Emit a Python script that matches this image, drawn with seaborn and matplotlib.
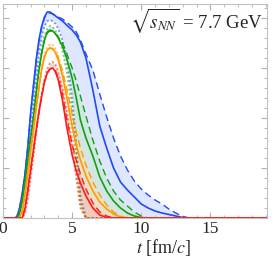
import matplotlib
matplotlib.use("Agg")
import matplotlib.pyplot as plt
import seaborn as sns
import numpy as np
from matplotlib.ticker import MultipleLocator, NullFormatter

# time grid [fm/c]
t = [0, 0.8, 1.0, 1.2, 1.4, 1.6, 1.8, 2.0, 2.2, 2.4,
     2.6, 2.8, 3.0, 3.2, 3.4, 3.6, 3.8, 4.0, 4.3, 4.6,
     5.0, 5.3, 5.6, 6.0, 6.5, 7.0, 7.5, 8.0, 8.5, 9.0,
     9.5, 10.0, 10.5, 11.0, 11.5, 12.0, 12.5, 13.0, 13.5, 14.0, 19.1]

blue_solid = [0, 0, 1, 10, 25, 45, 72, 105, 132, 158,
              178, 192, 201, 206, 206, 204, 202, 200, 197, 193,
              188, 183, 176, 160, 128, 92, 70, 50, 36, 28,
              21, 14, 10, 7, 5, 3.5, 2, 0.5, 0, 0, 0]
blue_dashed = [0, 0, 1, 10, 25, 45, 72, 104, 131, 157,
               177, 191, 200, 205, 205, 204, 203, 201, 199, 196,
               191, 186, 178, 164, 148, 124, 101, 80, 62, 48,
               37, 29, 23, 18, 14, 9, 5, 1.5, 0, 0, 0]
blue_dotted = [0, 0, 0, 4, 15, 32, 55, 85, 115, 142,
               165, 182, 192, 197, 198, 197, 194, 189, 178, 160,
               122, 75, 22, 0, 0, 0, 0, 0, 0, 0,
               0, 0, 0, 0, 0, 0, 0, 0, 0, 0, 0]

green_solid = [0, 0, 0, 5, 18, 38, 60, 80, 100, 125,
               148, 165, 178, 186, 188, 187, 184, 180, 172, 160,
               140, 120, 98, 80, 62, 41, 27, 17, 10, 5,
               2, 0.5, 0, 0, 0, 0, 0, 0, 0, 0, 0]
green_dashed = [0, 0, 0, 5, 18, 38, 60, 80, 100, 125,
                148, 165, 178, 185, 187, 186, 184, 181, 175, 165,
                150, 137, 122, 102, 78, 57, 40, 27, 18, 12,
                6, 2, 0, 0, 0, 0, 0, 0, 0, 0, 0]
green_dotted = [0, 0, 0, 2, 11, 28, 50, 76, 104, 130,
                152, 170, 182, 189, 192, 191, 187, 181, 168, 148,
                108, 62, 16, 0, 0, 0, 0, 0, 0, 0,
                0, 0, 0, 0, 0, 0, 0, 0, 0, 0, 0]

orange_solid = [0, 0, 0, 0, 8, 25, 46, 68, 88, 110,
                130, 149, 161, 168, 170, 169, 165, 158, 142, 122,
                92, 73, 58, 42, 27, 16, 9, 4, 1, 0,
                0, 0, 0, 0, 0, 0, 0, 0, 0, 0, 0]
orange_dashed = [0, 0, 0, 0, 8, 25, 46, 68, 88, 110,
                 130, 149, 161, 168, 170, 169, 166, 160, 147, 130,
                 104, 86, 70, 53, 36, 23, 13, 6, 2, 0,
                 0, 0, 0, 0, 0, 0, 0, 0, 0, 0, 0]
orange_dotted = [0, 0, 0, 0, 4, 16, 36, 60, 85, 110,
                 133, 152, 164, 171, 174, 173, 169, 162, 147, 124,
                 86, 48, 12, 0, 0, 0, 0, 0, 0, 0,
                 0, 0, 0, 0, 0, 0, 0, 0, 0, 0, 0]

red_solid = [0, 0, 0, 0, 0, 10, 28, 48, 68, 88,
             106, 122, 136, 145, 149, 150, 146, 138, 118, 92,
             63, 47, 35, 22, 10, 3, 0.5, 0, 0, 0,
             0, 0, 0, 0, 0, 0, 0, 0, 0, 0, 0]
red_dashed = [0, 0, 0, 0, 0, 10, 28, 48, 68, 88,
              106, 122, 136, 145, 149, 150, 147, 140, 124, 100,
              74, 58, 44, 29, 15, 6, 2, 0, 0, 0,
              0, 0, 0, 0, 0, 0, 0, 0, 0, 0, 0]
red_dotted = [0, 0, 0, 0, 0, 5, 20, 40, 62, 84,
              105, 124, 139, 149, 155, 156, 153, 146, 130, 108,
              72, 40, 10, 0, 0, 0, 0, 0, 0, 0,
              0, 0, 0, 0, 0, 0, 0, 0, 0, 0, 0]

series = [
    ("#1f4cf0", "#b8c8ff", blue_solid, blue_dashed, blue_dotted),
    ("#12a012", "#c4e8c4", green_solid, green_dashed, green_dotted),
    ("#ff9a00", "#ffdca8", orange_solid, orange_dashed, orange_dotted),
    ("#ff1a1a", "#ffb4aa", red_solid, red_dashed, red_dotted),
]

sns.set_style("ticks")
plt.rcParams["font.family"] = ["Liberation Serif", "DejaVu Serif"]
plt.rcParams["mathtext.fontset"] = "stix"

fig = plt.figure(figsize=(2.75, 2.64), dpi=100)
ax = fig.add_axes([3 / 275, 1 - 218 / 264, 264 / 275, 214 / 264])

# uncertainty bands
for col, band, s, d, p in series:
    arr = np.array([s, d, p])
    ax.fill_between(t, arr.min(axis=0), arr.max(axis=0), color=band,
                    alpha=0.45, linewidth=0)

for col, band, s, d, p in series:
    sns.lineplot(x=t, y=p, ax=ax, color=col, linestyle=(0, (1, 1.2)),
                 linewidth=1.4, alpha=0.55)
    sns.lineplot(x=t, y=d, ax=ax, color=col, linestyle=(0, (5, 3)),
                 linewidth=1.0)
    sns.lineplot(x=t, y=s, ax=ax, color=col, linewidth=1.2)

ax.set_xlim(0, 19.1)
ax.set_ylim(0, 214)
ax.xaxis.set_major_locator(MultipleLocator(5))
ax.xaxis.set_minor_locator(MultipleLocator(1))
ax.yaxis.set_major_locator(MultipleLocator(50))
ax.yaxis.set_minor_locator(MultipleLocator(10))
ax.yaxis.set_major_formatter(NullFormatter())
ax.tick_params(which="both", direction="in", top=True, right=True,
               color="#b0b0b0", labelsize=12.5, pad=2)
ax.tick_params(which="major", length=4)
ax.tick_params(which="minor", length=2)
for sp in ax.spines.values():
    sp.set_color("#c0c0c0")
    sp.set_linewidth(0.8)

ax.set_xlabel("$t$ [fm/$c$]", fontsize=13)
ax.xaxis.set_label_coords(0.61, -0.09)
ax.text(0.985, 0.99, r"$\sqrt{s_{NN}}$ = 7.7 GeV", transform=ax.transAxes,
        ha="right", va="top", fontsize=13.5)

fig.savefig("out.png", dpi=100)
